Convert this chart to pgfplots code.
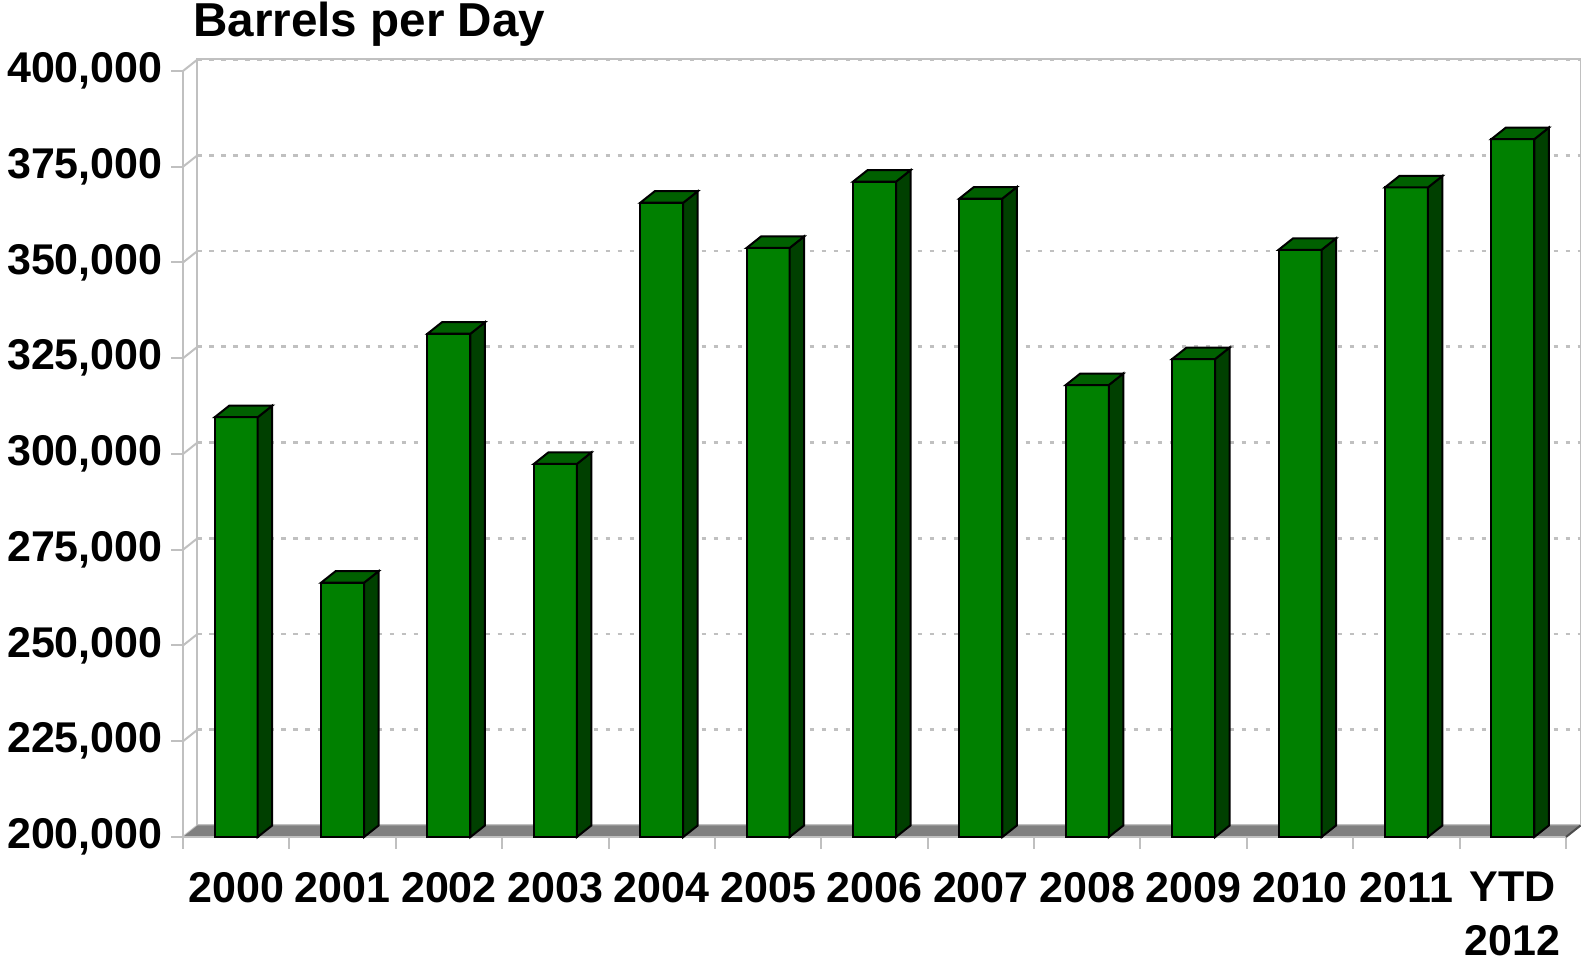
\documentclass[border=0pt]{standalone}
\usepackage{pgfplots}
\pgfplotsset{compat=1.18}
\usepackage{pgfplotstable}
\usepackage{fontspec}
\setmainfont{Liberation Sans}
\definecolor{frontgreen}{HTML}{008000}
\definecolor{sidegreen}{HTML}{004000}
\definecolor{topgreen}{HTML}{006000}
\definecolor{wallgray}{HTML}{C0C0C0}
\definecolor{floorgray}{HTML}{808080}

\pgfplotstableread{
x v
0.5 309600
1.5 266400
2.5 331400
3.5 297400
4.5 365600
5.5 353800
6.5 371100
7.5 366700
8.5 318000
9.5 324800
10.5 353300
11.5 369600
12.5 382200
}\datatable

\pgfdeclareplotmark{bar3d}{%
  \begingroup
  \pgfkeys{/pgf/fpu=true,/pgf/fpu/output format=fixed}%
  \pgfmathparse{(\val-200000)*383/200000}%
  \xdef\barh{\pgfmathresult}%
  \endgroup
  \pgfsetlinewidth{1pt}%
  \pgfsetstrokecolor{black}%
  \pgfsetfillcolor{sidegreen}%
  \pgfpathmoveto{\pgfpoint{10.75pt}{0pt}}%
  \pgfpathlineto{\pgfpoint{18pt}{5.75pt}}%
  \pgfpathlineto{\pgfpoint{18pt}{\dimexpr5.75pt-\barh pt\relax}}%
  \pgfpathlineto{\pgfpoint{10.75pt}{-\barh pt}}%
  \pgfpathclose
  \pgfusepath{fill,stroke}%
  \pgfsetfillcolor{topgreen}%
  \pgfpathmoveto{\pgfpoint{-10.75pt}{0pt}}%
  \pgfpathlineto{\pgfpoint{-3.5pt}{5.75pt}}%
  \pgfpathlineto{\pgfpoint{18pt}{5.75pt}}%
  \pgfpathlineto{\pgfpoint{10.75pt}{0pt}}%
  \pgfpathclose
  \pgfusepath{fill,stroke}%
}

\begin{document}
\begin{tikzpicture}
\useasboundingbox (0,0) rectangle (790.5pt,482pt);
\begin{axis}[
  at={(91.5pt,63.5pt)}, anchor=south west,
  scale only axis, width=691.5pt, height=383pt,
  clip=false,
  xmin=0, xmax=13, ymin=0, ymax=200000,
  y filter/.expression={y-200000},
  axis x line*=bottom, axis y line*=left,
  axis line style={draw=wallgray, line width=1pt},
  xtick={0,1,2,3,4,5,6,7,8,9,10,11,12,13},
  x tick label as interval,
  xticklabels={2000,2001,2002,2003,2004,2005,2006,2007,2008,2009,2010,2011,{YTD\\2012}},
  ytick={0,25000,50000,75000,100000,125000,150000,175000,200000},
  yticklabels={{200,000},{225,000},{250,000},{275,000},{300,000},{325,000},{350,000},{375,000},{400,000}},
  scaled y ticks=false,
  tick align=outside,
  major tick length=6pt,
  tick style={draw=wallgray, line width=1pt},
  ymajorgrids,
  major grid style={draw=wallgray, line width=1.35pt, dash pattern=on 2.25pt off 3.75pt, xshift=7.25pt, yshift=5.75pt},
  tick label style={font=\fontsize{21.5}{26.7}\selectfont\bfseries},
  xticklabel style={align=center, yshift=-8pt},
  yticklabel style={inner xsep=4pt},
]
% back wall
\draw[wallgray, line width=1pt] ([xshift=7.25pt,yshift=5.75pt]rel axis cs:0,0) rectangle ([xshift=7.25pt,yshift=5.75pt]rel axis cs:1,1);
% side wall connectors
\pgfplotsinvokeforeach{0,0.125,0.25,0.375,0.5,0.625,0.75,0.875,1}{
  \draw[wallgray, line width=1pt] (rel axis cs:0,#1) -- ++(7.25pt,5.75pt);
}
% floor
\fill[floorgray] (rel axis cs:0,0) -- (rel axis cs:1,0) -- ([xshift=7.25pt,yshift=5.75pt]rel axis cs:1,0) -- ([xshift=7.25pt,yshift=5.75pt]rel axis cs:0,0) -- cycle;
\draw[wallgray, line width=1pt] (rel axis cs:0,0) -- (rel axis cs:1,0);
\draw[black!70, line width=1pt] (rel axis cs:1,0) -- ([xshift=7.25pt,yshift=5.75pt]rel axis cs:1,0);
% bars
\addplot[ybar, bar width=21.5pt, bar shift=0pt, fill=frontgreen, draw=black, line width=1pt] table[x=x,y=v] {\datatable};
\addplot[only marks, mark=bar3d, visualization depends on={rawy \as \val}] table[x=x,y=v] {\datatable};
% title
\node[anchor=base west, inner sep=0pt, font=\fontsize{23.8}{28}\selectfont\bfseries] at ([xshift=5pt,yshift=17pt]rel axis cs:0,1) {Barrels per Day};
\end{axis}
\end{tikzpicture}
\end{document}
